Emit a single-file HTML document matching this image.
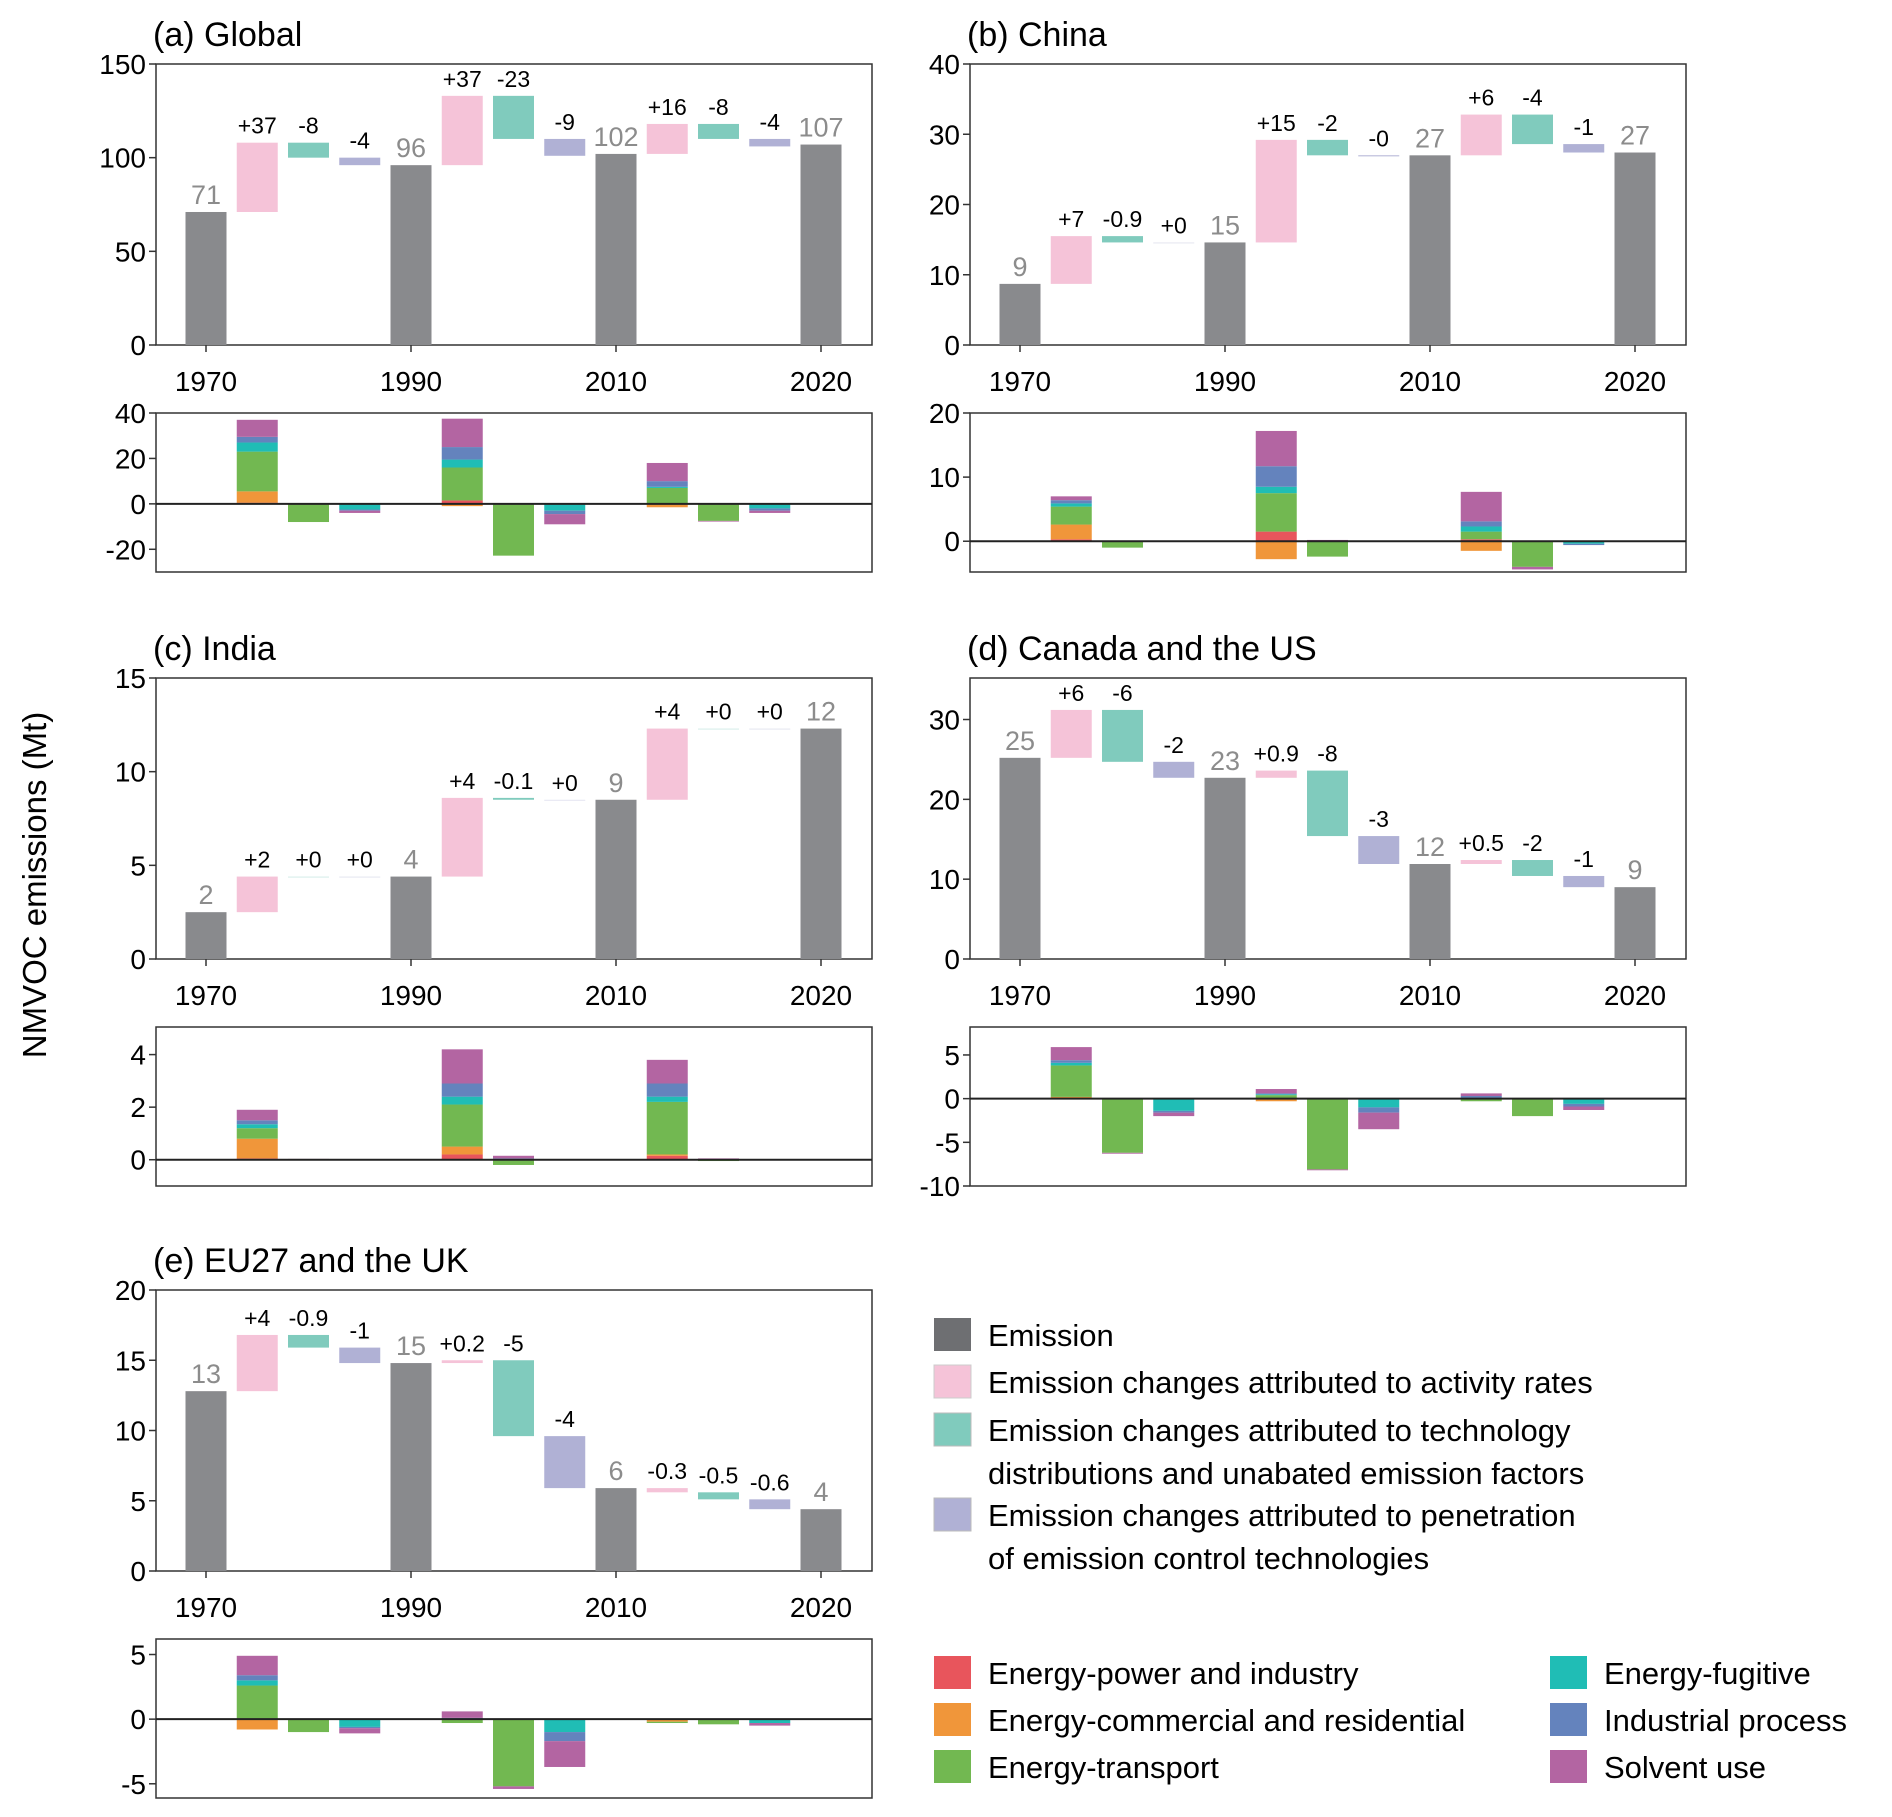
<!DOCTYPE html>
<html><head><meta charset="utf-8"><style>
html,body{margin:0;padding:0;background:#fff;}
svg{display:block;font-family:"Liberation Sans",sans-serif;}
</style></head><body>
<svg id="fig" width="1892" height="1817" viewBox="0 0 1892 1817" xmlns="http://www.w3.org/2000/svg">
<text transform="translate(46,885) rotate(-90)" text-anchor="middle" font-size="33">NMVOC emissions (Mt)</text>
<g id="legend">
 <g><rect x="934" y="1318" width="37" height="33" fill="#6e6f72"/><text x="988" y="1346" font-size="31">Emission</text></g>
 <g><rect x="934" y="1365" width="37" height="33" fill="#f5c3d8" stroke="#ccc"/><text x="988" y="1393" font-size="31">Emission changes attributed to activity rates</text></g>
 <g><rect x="934" y="1413" width="37" height="33" fill="#80cbbd" stroke="#bbb"/><text x="988" y="1441" font-size="31">Emission changes attributed to technology</text><text x="988" y="1484" font-size="31">distributions and unabated emission factors</text></g>
 <g><rect x="934" y="1498" width="37" height="33" fill="#b0b1d5" stroke="#bbb"/><text x="988" y="1526" font-size="31">Emission changes attributed to penetration</text><text x="988" y="1569" font-size="31">of emission control technologies</text></g>
 <g><rect x="934" y="1656" width="37" height="33" fill="#e8555c"/><text x="988" y="1684" font-size="31">Energy-power and industry</text></g>
 <g><rect x="934" y="1703" width="37" height="33" fill="#f0963a"/><text x="988" y="1731" font-size="31">Energy-commercial and residential</text></g>
 <g><rect x="934" y="1750" width="37" height="33" fill="#72b851"/><text x="988" y="1778" font-size="31">Energy-transport</text></g>
 <g><rect x="1550" y="1656" width="37" height="33" fill="#20bdb5"/><text x="1604" y="1684" font-size="31">Energy-fugitive</text></g>
 <g><rect x="1550" y="1703" width="37" height="33" fill="#6483bd"/><text x="1604" y="1731" font-size="31">Industrial process</text></g>
 <g><rect x="1550" y="1750" width="37" height="33" fill="#b365a2"/><text x="1604" y="1778" font-size="31">Solvent use</text></g>
</g>
</svg>
<script>
// ---- data ----
const years = ["1970","1990","2010","2020"];
const sectorNames = ["power","commercial","transport","fugitive","industrial","solvent"];
const sectorColors = ["#e8555c","#f0963a","#72b851","#20bdb5","#6483bd","#b365a2"];

const globalEmission = [71,96,102,107];
const globalActivity = [37,37,16];
const globalTechnology = [-8,-23,-8];
const globalPenetration = [-4,-9,-4];
const globalEmissionLabels = ["71","96","102","107"];
const globalChangeLabels = ["+37","-8","-4","+37","-23","-9","+16","-8","-4"];
const globalSectors = [
 [0.5,5,17.5,4,2.5,7.5],[0,0,-8,0,0,0],[0,0,0,-2.5,-0.5,-1],
 [1.5,-1,14.5,3.5,5.5,12.5],[0,-0.3,-22.5,0,0,0],[0,0,0,-3,-1.5,-4.5],
 [0,-1.5,7,0.5,2.5,8],[0,0,-7.5,0,0,-0.3],[0,0,0,-2,-1,-1]];

const chinaEmission = [8.7,14.6,27,27.4];
const chinaActivity = [6.8,14.6,5.8];
const chinaTechnology = [-0.9,-2.2,-4.2];
const chinaPenetration = [0,-0.1,-1.2];
const chinaEmissionLabels = ["9","15","27","27"];
const chinaChangeLabels = ["+7","-0.9","+0","+15","-2","-0","+6","-4","-1"];
const chinaSectors = [
 [0.3,2.3,2.8,0.5,0.5,0.6],[0,0,-1,0,0,0],[0,0,0,-0.05,0,0],
 [1.5,-2.8,6,1,3.2,5.5],[0,0,-2.4,0,0,0.2],[0,0,0,-0.1,0,0],
 [0.3,-1.5,1.2,0.8,0.8,4.6],[0,0,-4,0,0,-0.4],[0,0,0,-0.4,-0.2,0]];

const indiaEmission = [2.5,4.4,8.5,12.3];
const indiaActivity = [1.9,4.2,3.8];
const indiaTechnology = [0,-0.1,0];
const indiaPenetration = [0,0,0];
const indiaEmissionLabels = ["2","4","9","12"];
const indiaChangeLabels = ["+2","+0","+0","+4","-0.1","+0","+4","+0","+0"];
const indiaSectors = [
 [0.05,0.75,0.4,0.15,0.15,0.4],[0,0,0,0,0,0.03],[0,0,0,0,0,0],
 [0.2,0.3,1.6,0.3,0.5,1.3],[0,0,-0.2,0,0.05,0.1],[0,0,0,0,0,0],
 [0.15,0.05,2.0,0.2,0.5,0.9],[0,0,-0.05,0,0,0.05],[0,0,0,0,0,0]];

const usEmission = [25.2,22.7,11.9,9.0];
const usActivity = [6,0.9,0.5];
const usTechnology = [-6.5,-8.2,-2];
const usPenetration = [-2,-3.5,-1.4];
const usEmissionLabels = ["25","23","12","9"];
const usChangeLabels = ["+6","-6","-2","+0.9","-8","-3","+0.5","-2","-1"];
const usSectors = [
 [0,0.2,3.6,0.3,0.3,1.5],[0,0,-6.2,0,0,-0.1],[0,0,0,-1.4,-0.2,-0.4],
 [0,-0.3,0.4,0.1,0.1,0.5],[0,0,-8.1,0,0,-0.1],[0,0,0,-1,-0.6,-1.9],
 [0,0,-0.3,0.1,0.2,0.3],[0,0,-2,0,0,0],[0,0,0,-0.6,-0.3,-0.4]];

const euEmission = [12.8,14.8,5.9,4.4];
const euActivity = [4,0.2,-0.3];
const euTechnology = [-0.9,-5.4,-0.5];
const euPenetration = [-1.1,-3.7,-0.7];
const euEmissionLabels = ["13","15","6","4"];
const euChangeLabels = ["+4","-0.9","-1","+0.2","-5","-4","-0.3","-0.5","-0.6"];
const euSectors = [
 [0,-0.8,2.6,0.4,0.4,1.5],[0,0,-1,0,0,0],[0,0,0,-0.6,-0.1,-0.4],
 [0,0,-0.3,0,0.1,0.5],[0,0,-5.2,0,0,-0.2],[0,0,0,-1,-0.7,-2],
 [0,-0.2,-0.1,0,0,0],[0,0,-0.4,0,0,0],[0,0,0,-0.3,0,-0.2]];

const panels = [
 {id:"global",title:"(a) Global",col:0,top:64,max:150,ticks:[0,50,100,150],lmin:-30,lmax:40,lticks:[-20,0,20,40],
  em:globalEmission,act:globalActivity,tech:globalTechnology,pen:globalPenetration,el:globalEmissionLabels,cl:globalChangeLabels,sec:globalSectors},
 {id:"china",title:"(b) China",col:1,top:64,max:40,ticks:[0,10,20,30,40],lmin:-4.8,lmax:20,lticks:[0,10,20],
  em:chinaEmission,act:chinaActivity,tech:chinaTechnology,pen:chinaPenetration,el:chinaEmissionLabels,cl:chinaChangeLabels,sec:chinaSectors},
 {id:"india",title:"(c) India",col:0,top:678,max:15,ticks:[0,5,10,15],lmin:-1,lmax:5.05,lticks:[0,2,4],
  em:indiaEmission,act:indiaActivity,tech:indiaTechnology,pen:indiaPenetration,el:indiaEmissionLabels,cl:indiaChangeLabels,sec:indiaSectors},
 {id:"us",title:"(d) Canada and the US",col:1,top:678,max:35.2,ticks:[0,10,20,30],lmin:-10,lmax:8.2,lticks:[-10,-5,0,5],
  em:usEmission,act:usActivity,tech:usTechnology,pen:usPenetration,el:usEmissionLabels,cl:usChangeLabels,sec:usSectors},
 {id:"eu",title:"(e) EU27 and the UK",col:0,top:1290,max:20,ticks:[0,5,10,15,20],lmin:-6.1,lmax:6.2,lticks:[-5,0,5],
  em:euEmission,act:euActivity,tech:euTechnology,pen:euPenetration,el:euEmissionLabels,cl:euChangeLabels,sec:euSectors}
];

const NS="http://www.w3.org/2000/svg";
const svg=document.getElementById('fig');
function mk(tag,attrs,parent,txt){const e=document.createElementNS(NS,tag);for(const k in attrs)e.setAttribute(k,attrs[k]);if(txt!==undefined)e.textContent=txt;parent.appendChild(e);return e;}

const W=716, MH=281, LOFF=349, LH=159, STEP=51.25, BW=41;
const changeColors=["#f5c3d8","#80cbbd","#b0b1d5"];
const changeNames=["activity","technology","penetration"];

panels.forEach(p=>{
 const x0=p.col?970:156;
 const g=mk('g',{},svg);
 
 
 const cx=i=>x0+50+STEP*i;
 const yM=v=>p.top+MH-v/p.max*MH;
 const lt=p.top+LOFF;
 const yL=v=>lt+(p.lmax-v)/(p.lmax-p.lmin)*LH;
 const t=mk('text',{x:x0-3,y:p.top-18,'font-size':34},g,p.title);
 
 
 const fr=mk('rect',{x:x0,y:p.top,width:W,height:MH,fill:'none',stroke:'#333','stroke-width':1.5},g);
 
 
 p.ticks.forEach(v=>{
  mk('line',{x1:x0-7,x2:x0,y1:yM(v),y2:yM(v),stroke:'#333','stroke-width':1.5},g);
  const tl=mk('text',{x:x0-10,y:yM(v)+10,'text-anchor':'end','font-size':28},g,String(v));
  
  
 });
 let level=p.em[0];
 for(let k=0;k<4;k++){
  const i=k*4, v=p.em[k];
  const r=mk('rect',{x:cx(i)-BW/2,y:yM(v),width:BW,height:yM(0)-yM(v),fill:'#898a8d'},g);
  
  
  const el=mk('text',{x:cx(i),y:yM(v)-8,'text-anchor':'middle','font-size':27,fill:'#8c8c8c'},g,p.el[k]);
  
  
  mk('line',{x1:cx(i),x2:cx(i),y1:yM(0),y2:yM(0)+7,stroke:'#333','stroke-width':1.5},g);
  const yl=mk('text',{x:cx(i),y:p.top+MH+46,'text-anchor':'middle','font-size':28},g,years[k]);
  
  
  if(k<3){
   level=v;
   const ch=[p.act[k],p.tech[k],p.pen[k]];
   ch.forEach((d,j)=>{
    const a=level,b=level+d; level=b;
    const hi=Math.max(a,b),lo=Math.min(a,b);
    const ii=i+1+j;
    const cr=mk('rect',{x:cx(ii)-BW/2,y:yM(hi),width:BW,height:Math.max(1,yM(lo)-yM(hi)),fill:changeColors[j],opacity:d===0?0.35:1},g);
    
    
    const cl=mk('text',{x:cx(ii),y:yM(hi)-9,'text-anchor':'middle','font-size':23},g,p.cl[k*3+j]);
    
    
   });
  }
 }
 const lf=mk('rect',{x:x0,y:lt,width:W,height:LH,fill:'none',stroke:'#333','stroke-width':1.5},g);
 
 
 p.lticks.forEach(v=>{
  mk('line',{x1:x0-7,x2:x0,y1:yL(v),y2:yL(v),stroke:'#333','stroke-width':1.5},g);
  const tl=mk('text',{x:x0-10,y:yL(v)+10,'text-anchor':'end','font-size':28},g,String(v));
  
  
 });
 p.sec.forEach((col,c)=>{
  const ii=Math.floor(c/3)*4+1+(c%3);
  let pos=0,neg=0;
  col.forEach((v,s)=>{
   if(v===0)return;
   let a,b;
   if(v>0){a=pos;b=pos+v;pos=b;}else{a=neg;b=neg+v;neg=b;}
   const hi=Math.max(a,b),lo=Math.min(a,b);
   const sr=mk('rect',{x:cx(ii)-BW/2,y:yL(hi),width:BW,height:yL(lo)-yL(hi),fill:sectorColors[s]},g);
   
   
  });
 });
 const zl=mk('line',{x1:x0,x2:x0+W,y1:yL(0),y2:yL(0),stroke:'#222','stroke-width':2},g);
 
 
});
</script>
</body></html>
